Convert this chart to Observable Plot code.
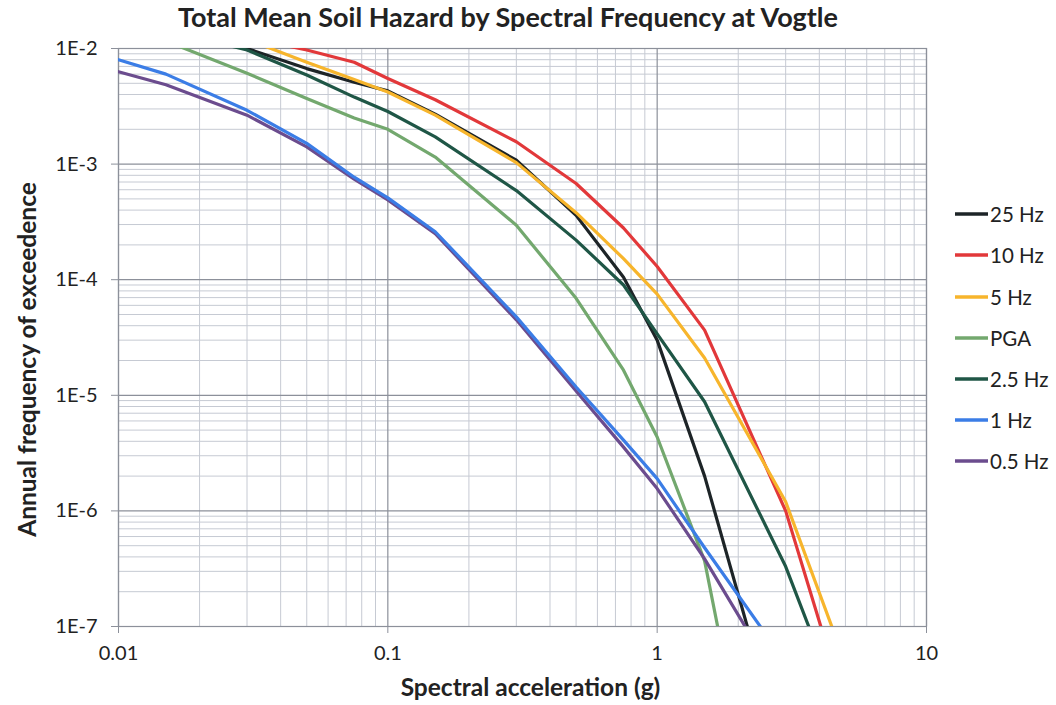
<!DOCTYPE html>
<html>
<head>
<meta charset="utf-8">
<script src="https://cdn.jsdelivr.net/npm/d3@7"></script>
<script src="https://cdn.jsdelivr.net/npm/@observablehq/plot@0.6"></script>
<style>
  body { margin: 0; background: #fff; font-family: Lato, "Open Sans", sans-serif; }
  #wrap { position: relative; width: 1056px; height: 705px; overflow: hidden; }
  #title { height: 26px; line-height: 34px; text-align: center; font-weight: bold; font-size: 27px; color: #222; margin-left: -40px; }
  #legend { position: absolute; left: 955px; top: 193.7px; font-size: 20.5px; color: #222; }
  .item { height: 41.2px; display: flex; align-items: center; white-space: nowrap; }
  .item svg { margin-right: 2px; }
</style>
</head>
<body>
<div id="wrap">
  <div id="title"></div>
  <div id="chart"></div>
  <div id="legend"></div>
</div>
<script>
// ---- Data ----
const titleText = "Total Mean Soil Hazard by Spectral Frequency at Vogtle";
const xLabel = "Spectral acceleration (g)";
const yLabel = "Annual frequency of exceedence";

const amps = [0.01, 0.015, 0.03, 0.05, 0.075, 0.1, 0.15, 0.3, 0.5, 0.75, 1, 1.5, 3, 5];

const hz25  = [2.2e-2, 1.7e-2, 1.0e-2, 6.7e-3, 5.1e-3, 4.3e-3, 2.7e-3, 1.08e-3, 3.6e-4, 1.05e-4, 3.0e-5, 2.0e-6, 6.8e-9, 1e-11];
const hz10  = [2.0e-2, 1.7e-2, 1.25e-2, 9.7e-3, 7.6e-3, 5.5e-3, 3.6e-3, 1.56e-3, 6.8e-4, 2.8e-4, 1.3e-4, 3.66e-5, 1.0e-6, 2.0e-8];
const hz5   = [2.3e-2, 1.9e-2, 1.2e-2, 7.6e-3, 5.4e-3, 4.2e-3, 2.65e-3, 1.03e-3, 3.8e-4, 1.52e-4, 7.5e-5, 2.1e-5, 1.2e-6, 4.8e-8];
const pga   = [1.4e-2, 1.16e-2, 6.1e-3, 3.7e-3, 2.5e-3, 2.0e-3, 1.15e-3, 2.96e-4, 6.9e-5, 1.65e-5, 4.36e-6, 3.7e-7, 1.1e-10, 1e-13];
const hz2_5 = [1.8e-2, 1.45e-2, 9.7e-3, 5.9e-3, 3.8e-3, 2.85e-3, 1.72e-3, 5.9e-4, 2.2e-4, 9.0e-5, 3.4e-5, 8.8e-6, 3.3e-7, 1.5e-8];
const hz1   = [8.0e-3, 6.0e-3, 2.92e-3, 1.51e-3, 7.7e-4, 5.1e-4, 2.6e-4, 4.77e-5, 1.18e-5, 4.1e-6, 1.9e-6, 4.8e-7, 4.9e-8, 9.5e-9];
const hz0_5 = [6.3e-3, 4.85e-3, 2.65e-3, 1.41e-3, 7.4e-4, 4.9e-4, 2.5e-4, 4.5e-5, 1.09e-5, 3.56e-6, 1.56e-6, 3.85e-7, 2.6e-8, 4e-9];

const seriesNames  = ["25 Hz", "10 Hz", "5 Hz", "PGA", "2.5 Hz", "1 Hz", "0.5 Hz"];
const seriesValues = [hz25, hz10, hz5, pga, hz2_5, hz1, hz0_5];
const seriesColors = ["#1d2427", "#e2383a", "#f7b52c", "#73a86e", "#1f5646", "#3b7de6", "#6b4c8e"];
const drawOrder    = ["25 Hz", "10 Hz", "5 Hz", "PGA", "2.5 Hz", "0.5 Hz", "1 Hz"];

const xTicks = [0.01, 0.1, 1, 10];
const xTickLabels = ["0.01", "0.1", "1", "10"];
const yTicks = [1e-2, 1e-3, 1e-4, 1e-5, 1e-6, 1e-7];
const yTickLabels = ["1E-2", "1E-3", "1E-4", "1E-5", "1E-6", "1E-7"];

// ---- Build table ----
const rows = [];
for (const name of drawOrder) {
  const vals = seriesValues[seriesNames.indexOf(name)];
  amps.forEach((a, i) => rows.push({ series: name, a, f: vals[i] }));
}
const minorX = [];
for (let e = -2; e < 1; e++) for (let m = 2; m <= 9; m++) minorX.push(m * Math.pow(10, e));
const minorY = [];
for (let e = -7; e < -2; e++) for (let m = 2; m <= 9; m++) minorY.push(m * Math.pow(10, e));

const majorColor = "#8c909a";
const minorColor = "#c6cad3";
const textColor = "#222";

document.getElementById("title").textContent = titleText;

const chart = Plot.plot({
  width: 1056,
  height: 679,
  marginTop: 22,
  marginBottom: 79,
  marginLeft: 118,
  marginRight: 130,
  style: { fontFamily: "Lato, 'Open Sans', sans-serif", color: textColor, background: "#fff", overflow: "visible" },
  x: { type: "log", domain: [0.01, 10], axis: null },
  y: { type: "log", domain: [1e-7, 1e-2], axis: null },
  color: { domain: seriesNames, range: seriesColors },
  marks: [
    Plot.ruleX(minorX, { stroke: minorColor, strokeWidth: 1 }),
    Plot.ruleY(minorY, { stroke: minorColor, strokeWidth: 1 }),
    Plot.ruleX(xTicks, { stroke: majorColor, strokeWidth: 1.2 }),
    Plot.ruleY(yTicks, { stroke: majorColor, strokeWidth: 1.2 }),
    Plot.frame({ stroke: majorColor, strokeWidth: 1.2 }),
    Plot.axisX({ ticks: xTicks, tickFormat: (d) => xTickLabels[xTicks.indexOf(d)], tickSize: 7, tickPadding: 12, fontSize: 20, label: null, stroke: majorColor, fill: textColor }),
    Plot.axisY({ ticks: yTicks, tickFormat: (d) => yTickLabels[yTicks.indexOf(d)], tickSize: 7, tickPadding: 14, fontSize: 20, label: null, stroke: majorColor, fill: textColor }),
    Plot.line(rows, { x: "a", y: "f", z: "series", stroke: "series", strokeWidth: 3.2, clip: true, strokeLinejoin: "round" }),
    Plot.text([xLabel], { frameAnchor: "bottom", dy: 62, dx: 8, text: d => d, fontSize: 24.5, fontWeight: "bold", fill: textColor, lineAnchor: "middle" }),
    Plot.text([yLabel], { frameAnchor: "left", dx: -90, dy: 22, rotate: -90, textAnchor: "middle", text: d => d, fontSize: 24.5, fontWeight: "bold", fill: textColor })
  ]
});
document.getElementById("chart").appendChild(chart);

// ---- Legend ----
const legend = document.getElementById("legend");
seriesNames.forEach((name, i) => {
  const item = document.createElement("div");
  item.className = "item";
  item.innerHTML = `<svg width="33" height="6"><line x1="0" y1="3" x2="33" y2="3" stroke="${seriesColors[i]}" stroke-width="3.4"/></svg><span>${name}</span>`;
  legend.appendChild(item);
});
</script>
</body>
</html>
